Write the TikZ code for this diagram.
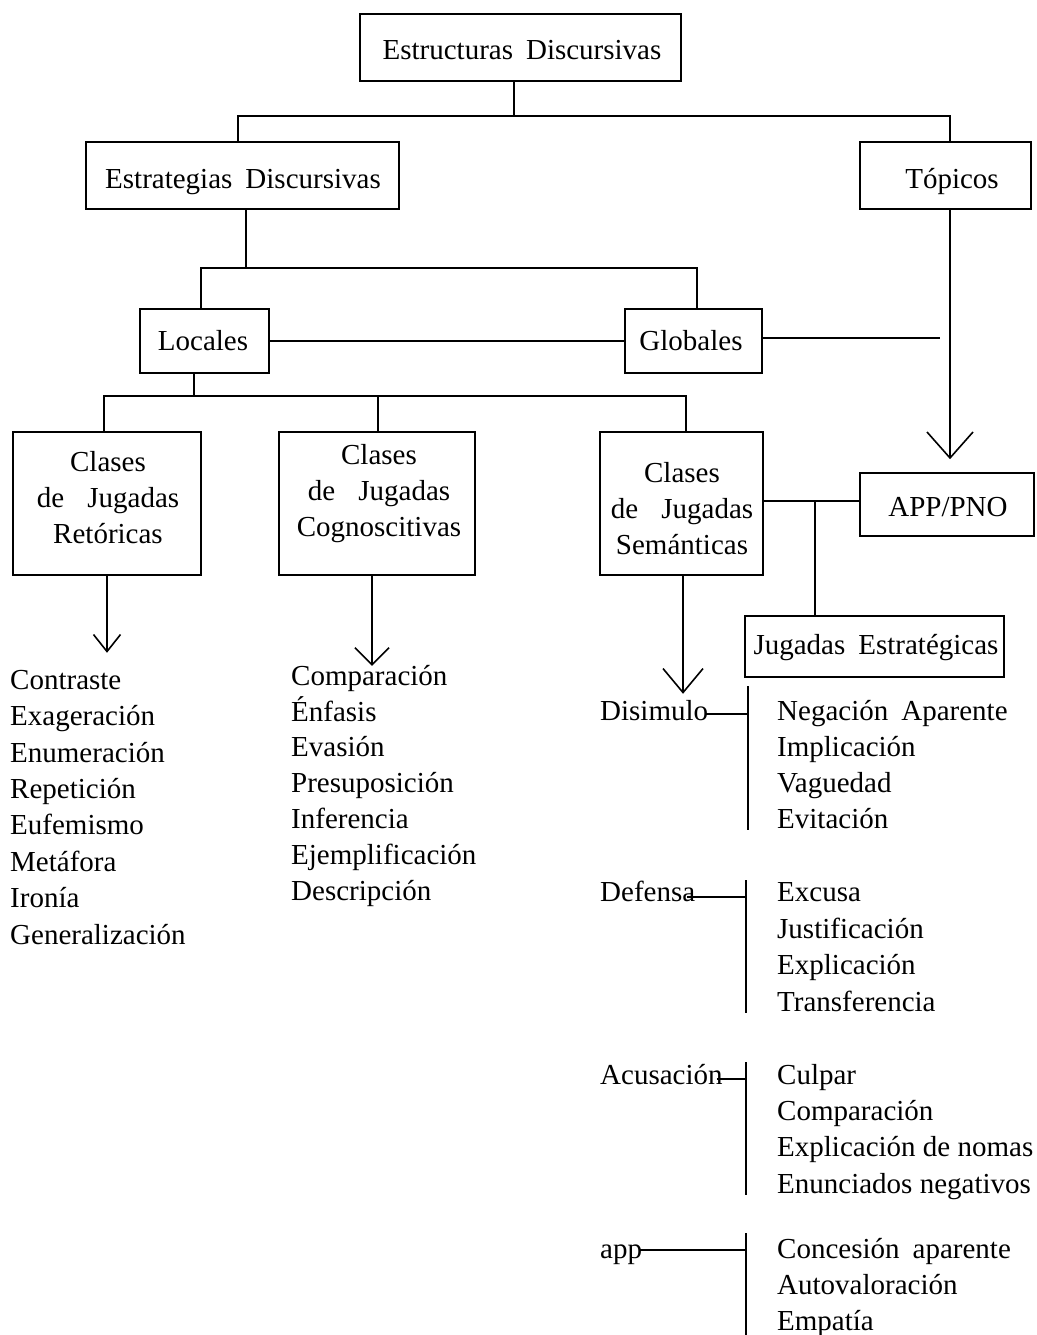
\documentclass[tikz,border=0pt]{standalone}
\usepackage{fontspec}
\setmainfont{Liberation Serif}
\usetikzlibrary{arrows.meta,calc}
\newcommand{\gap}{\hspace{0.45em}}
\newcommand{\wgap}{\hspace{0.8em}}
\begin{document}
\begin{tikzpicture}[x=1pt,y=-1pt,
  box/.style={draw, line width=1.6pt, inner sep=0pt},
  lbl/.style={inner sep=0pt, align=center, font=\fontsize{29}{36}\selectfont},
  item/.style={inner sep=0pt, anchor=mid west, font=\fontsize{29}{36}\selectfont},
  conn/.style={line width=1.6pt},
]
\useasboundingbox (0,0) rectangle (1036,1335);

% boxes
\node[box, minimum width=321pt, minimum height=67pt] (ed) at (520.5,47.5) {};
\node[lbl] (edl) at (522,50) {Estructuras\gap Discursivas};
\node[box, minimum width=313pt, minimum height=67pt] (est) at (242.5,175.5) {};
\node[lbl] (estl) at (243,182) {Estrategias\gap Discursivas};
\node[box, minimum width=171pt, minimum height=67pt] (top) at (945.5,175.5) {};
\node[lbl] (topl) at (952,182) {Tópicos};
\node[box, minimum width=129pt, minimum height=64pt] (loc) at (204.5,341) {};
\node[lbl] (locl) at (203,341) {Locales};
\node[box, minimum width=137pt, minimum height=64pt] (glo) at (693.5,341) {};
\node[lbl] (glol) at (691,341) {Globales};
\node[box, minimum width=188pt, minimum height=143pt] (ret) at (107,503.5) {};
\node[lbl] (retl) at (108,498) {Clases\\de\wgap Jugadas\\Retóricas};
\node[box, minimum width=196pt, minimum height=143pt] (cog) at (377,503.5) {};
\node[lbl] (cogl) at (379,494) {Clases\\de\wgap Jugadas\\Cognoscitivas};
\node[box, minimum width=163pt, minimum height=143pt] (sem) at (681.5,503.5) {};
\node[lbl] (seml) at (682,509) {Clases\\de\wgap Jugadas\\Semánticas};
\node[box, minimum width=174pt, minimum height=63pt] (app) at (947,504.5) {};
\node[lbl] (appl) at (948,507) {APP/PNO};
\node[box, minimum width=259pt, minimum height=61pt] (je) at (874.5,646.5) {};
\node[lbl] (jel) at (876,648) {Jugadas\gap Estratégicas};

% tree connectors
\coordinate (j1) at (514,116);
\draw[conn] (j1 |- ed.south) -- (j1);
\draw[conn] ([xshift=-4.5pt]est.north) |- (j1) -| ([xshift=4.5pt]top.north);
\coordinate (j2) at (246,268);
\draw[conn] (j2 |- est.south) -- (j2);
\draw[conn] ([xshift=-3.5pt]loc.north) |- (j2) -| ([xshift=3.5pt]glo.north);
\draw[conn] (loc.east) -- (glo.west);
\coordinate (g1) at (940,338);
\draw[conn] (glo.east |- g1) -- (g1);
\draw[conn, -{Straight Barb[length=26pt,width=46pt]}] ([xshift=4.5pt]top.south) -- ([xshift=3pt,yshift=13pt]app.north);
\coordinate (j3) at (194,396);
\draw[conn] (j3 |- loc.south) -- (j3);
\draw[conn] ([xshift=-3pt]ret.north) |- (j3) -| ([xshift=4.5pt]sem.north);
\draw[conn] ([xshift=1pt]cog.north) -- ([xshift=1pt]cog.north |- j3);
\coordinate (j4) at (815,501);
\draw[conn] (sem.east |- j4) -- (app.west |- j4);
\draw[conn] (j4) -- (j4 |- je.north);

% downward arrows
\draw[conn, -{Straight Barb[length=17pt,width=27pt]}] (ret.south) -- ++(0,77);
\draw[conn, -{Straight Barb[length=17pt,width=34pt]}] ([xshift=-5pt]cog.south) -- ++(0,90);
\draw[conn, -{Straight Barb[length=24pt,width=40pt]}] ([xshift=1.5pt]sem.south) -- ++(0,118);

% left lists
\foreach \t [count=\i] in {Contraste, Exageración, Enumeración, Repetición, Eufemismo, Metáfora, Ironía, Generalización}
  \node[item] (r\i) at (10, {687+36.4*(\i-1)}) {\t};
\foreach \t [count=\i] in {Comparación, Énfasis, Evasión, Presuposición, Inferencia, Ejemplificación, Descripción}
  \node[item] (c\i) at (291, {683+35.8*(\i-1)}) {\t};

% right groups
\node[item] (dis) at (600,718) {Disimulo};
\coordinate (v1t) at (748,686); \coordinate (v1b) at (748,830);
\draw[conn] (v1t) -- (v1b);
\draw[conn] ([xshift=-3pt]dis.east |- 0,714) -- (v1t |- 0,714);
\foreach \t [count=\i] in {Negación\gap Aparente, Implicación, Vaguedad, Evitación}
  \node[item] (d\i) at (777, {718+36*(\i-1)}) {\t};

\node[item] (def) at (600,899) {Defensa};
\coordinate (v2t) at (746,880); \coordinate (v2b) at (746,1013);
\draw[conn] (v2t) -- (v2b);
\draw[conn] ([xshift=-8pt]def.east |- 0,897) -- (v2t |- 0,897);
\foreach \t [count=\i] in {Excusa, Justificación, Explicación, Transferencia}
  \node[item] (e\i) at (777, {899+36.7*(\i-1)}) {\t};

\node[item] (acu) at (600,1082) {Acusación};
\coordinate (v3t) at (746,1062); \coordinate (v3b) at (746,1195);
\draw[conn] (v3t) -- (v3b);
\draw[conn] ([xshift=-6pt]acu.east |- 0,1079) -- (v3t |- 0,1079);
\foreach \t [count=\i] in {Culpar, Comparación, Explicación de nomas, Enunciados negativos}
  \node[item] (a\i) at (777, {1082+36.3*(\i-1)}) {\t};

\node[item] (ap) at (600,1256) {app};
\coordinate (v4t) at (746,1233); \coordinate (v4b) at (746,1335);
\draw[conn] (v4t) -- (v4b);
\draw[conn] ([xshift=-3pt]ap.east |- 0,1250) -- (v4t |- 0,1250);
\foreach \t [count=\i] in {Concesión\gap aparente, Autovaloración, Empatía}
  \node[item] (p\i) at (777, {1256+36*(\i-1)}) {\t};
\end{tikzpicture}
\end{document}
